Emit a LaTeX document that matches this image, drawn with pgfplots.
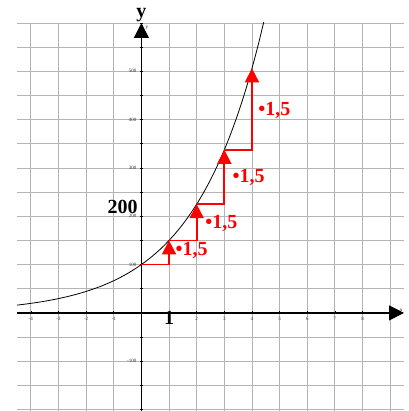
\documentclass[border=0pt]{standalone}
\usepackage{fontspec}
\setmainfont{Liberation Serif}
\usepackage{pgfplots}
\pgfplotsset{compat=1.18}
\usetikzlibrary{arrows.meta}
\definecolor{gridgray}{RGB}{180,180,180}
\begin{document}
\begin{tikzpicture}
\begin{axis}[
  scale only axis,
  width=387pt, height=388pt,
  xmin=-4.5, xmax=9.5, ymin=-203, ymax=600,
  axis lines=middle,
  axis line style={black, line width=1.2pt, -{Triangle[length=15pt,width=15pt]}},
  clip mode=individual,
  grid=major,
  major grid style={gridgray, line width=0.9pt},
  xtick={-4,...,9},
  xticklabels={-4,-3,-2,-1,,,2,3,4,5,6,7,8,},
  ytick={-200,-150,...,600},
  yticklabels={,,-100,,,,100,,200,,300,,400,,500,,},
  tick style={black, line width=0.6pt},
  major tick length=3pt,
  tick label style={font=\fontsize{5}{6}\selectfont, text=black!80},
  xticklabel style={yshift=1pt},
  /pgf/number format/assume math mode=true,
]
\addplot[black, line width=0.8pt, smooth] coordinates {
(-4.5,16.13)(-4.25,17.85)(-4,19.75)(-3.75,21.86)(-3.5,24.19)(-3.25,26.77)
(-3,29.63)(-2.75,32.79)(-2.5,36.29)(-2.25,40.16)(-2,44.44)(-1.75,49.19)
(-1.5,54.43)(-1.25,60.24)(-1,66.67)(-0.75,73.78)(-0.5,81.65)(-0.25,90.36)
(0,100)(0.25,110.67)(0.5,122.47)(0.75,135.54)(1,150)(1.25,166.00)
(1.5,183.71)(1.75,203.31)(2,225)(2.25,249.00)(2.5,275.57)(2.75,304.97)
(3,337.5)(3.25,373.50)(3.5,413.36)(3.75,457.45)(4,506.25)(4.25,560.26)(4.5,620.03)
};
\pgfplotsset{every axis plot/.append style={red, line width=1.8pt}}
\addplot[-{Triangle[length=14pt,width=14pt]}] coordinates {(0,100)(1,100)(1,150)};
\addplot[-{Triangle[length=14pt,width=14pt]}] coordinates {(1,150)(2,150)(2,225)};
\addplot[-{Triangle[length=14pt,width=14pt]}] coordinates {(2,225)(3,225)(3,337.5)};
\addplot[-{Triangle[length=14pt,width=14pt]}] coordinates {(3,337.5)(4,337.5)(4,506.25)};
\node[anchor=west, text=red, font=\fontsize{20}{22}\selectfont\bfseries, inner sep=0pt] at (axis cs:1.23,130) {•1,5};
\node[anchor=west, text=red, font=\fontsize{20}{22}\selectfont\bfseries, inner sep=0pt] at (axis cs:2.31,186) {•1,5};
\node[anchor=west, text=red, font=\fontsize{20}{22}\selectfont\bfseries, inner sep=0pt] at (axis cs:3.29,280) {•1,5};
\node[anchor=west, text=red, font=\fontsize{20}{22}\selectfont\bfseries, inner sep=0pt] at (axis cs:4.22,420) {•1,5};
\node[anchor=base, font=\fontsize{20}{22}\selectfont\bfseries, inner sep=0pt] at (axis cs:-0.68,205) {200};
\node[font=\fontsize{20}{22}\selectfont\bfseries, inner sep=0pt] at (axis cs:1,-11) {1};
\node[anchor=base, font=\fontsize{20}{22}\selectfont\bfseries, inner sep=0pt] at (axis cs:0,612) {y};
\node[font=\fontsize{5}{6}\selectfont, inner sep=0pt] at (axis cs:0.2,590) {y};
\node[font=\fontsize{5}{6}\selectfont, inner sep=0pt] at (axis cs:9.4,6) {x};
\end{axis}
\pgfresetboundingbox
\path[use as bounding box] ([xshift=-17pt]current axis.south west) rectangle ([xshift=4pt,yshift=23pt]current axis.north east);
\end{tikzpicture}
\end{document}
